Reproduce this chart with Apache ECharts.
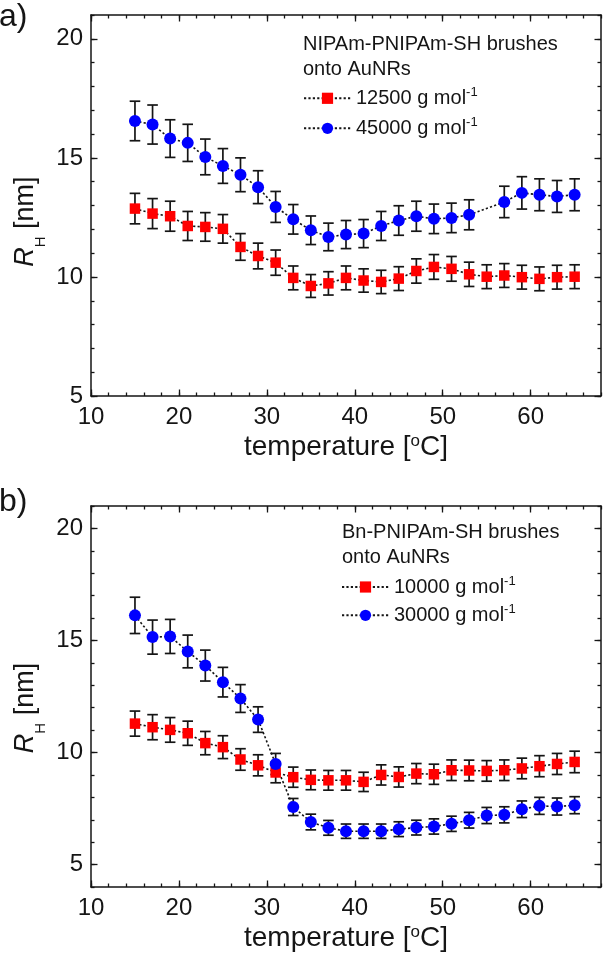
<!DOCTYPE html>
<html>
<head>
<meta charset="utf-8">
<script src="https://cdn.jsdelivr.net/npm/echarts@6/dist/echarts.min.js"></script>
<style>
html,body{margin:0;padding:0;background:#ffffff;}
#chart{width:604px;height:957px;}
</style>
</head>
<body>
<div id="chart"></div>
<script>
// ---------------- data ----------------
const temperature = [15,17,19,21,23,25,27,29,31,33,35,37,39,41,43,45,47,49,51,53,55,57,59,61,63,65];

// panel a) NIPAm-PNIPAm-SH brushes onto AuNRs
const aRedName = '12500 g mol-1';
const aRed    = [12.87,12.66,12.55,12.14,12.10,12.02,11.26,10.88,10.60,9.96,9.62,9.73,9.96,9.85,9.79,9.93,10.25,10.42,10.34,10.11,10.01,10.06,9.99,9.92,9.99,10.01];
const aRedErr = [0.64,0.63,0.63,0.61,0.60,0.60,0.56,0.54,0.53,0.50,0.48,0.49,0.50,0.49,0.49,0.50,0.51,0.52,0.52,0.51,0.50,0.50,0.50,0.50,0.50,0.50];
const aBlueName = '45000 g mol-1';
const aBlue    = [16.55,16.40,15.81,15.63,15.04,14.66,14.29,13.77,12.94,12.42,11.96,11.68,11.78,11.82,12.14,12.37,12.55,12.44,12.48,12.61,null,13.15,13.53,13.45,13.38,13.45];
const aBlueErr = [0.83,0.82,0.79,0.78,0.75,0.73,0.71,0.69,0.65,0.62,0.60,0.58,0.59,0.59,0.61,0.62,0.63,0.62,0.62,0.63,null,0.66,0.68,0.67,0.67,0.67];

// panel b) Bn-PNIPAm-SH brushes onto AuNRs
const bRedName = '10000 g mol-1';
const bRed    = [11.29,11.13,11.01,10.86,10.42,10.24,9.69,9.43,9.11,8.90,8.78,8.76,8.76,8.69,9.00,8.91,9.06,9.03,9.21,9.20,9.18,9.21,9.29,9.39,9.49,9.58];
const bRedErr = [0.56,0.56,0.55,0.54,0.52,0.51,0.48,0.47,0.46,0.45,0.44,0.44,0.44,0.43,0.45,0.45,0.45,0.45,0.46,0.46,0.46,0.46,0.46,0.47,0.47,0.48];
const bBlueName = '30000 g mol-1';
const bBlue    = [16.12,15.15,15.18,14.51,13.88,13.14,12.41,11.47,9.49,7.57,6.90,6.64,6.49,6.49,6.49,6.58,6.65,6.70,6.82,6.98,7.19,7.22,7.47,7.62,7.59,7.65];
const bBlueErr = [0.81,0.76,0.76,0.73,0.69,0.66,0.62,0.57,0.47,0.38,0.35,0.33,0.32,0.32,0.32,0.33,0.33,0.34,0.34,0.35,0.36,0.36,0.37,0.38,0.38,0.38];

// axis ticks
const xMajorTicks = [10,20,30,40,50,60];
const yMajorTicks = [5,10,15,20];
const panelAHeader = 'NIPAm-PNIPAm-SH brushes\nonto AuNRs';
const panelBHeader = 'Bn-PNIPAm-SH brushes\nonto AuNRs';

// ---------------- helpers ----------------
const FONT = 'Liberation Sans, Arial, Helvetica, sans-serif';
const INK = '#151515';

function pairs(xs, ys) {
  const out = [];
  for (let i = 0; i < xs.length; i++) if (ys[i] != null) out.push([xs[i], ys[i]]);
  return out;
}
function errData(xs, ys, es) {
  const out = [];
  for (let i = 0; i < xs.length; i++) if (ys[i] != null) out.push([xs[i], ys[i] - es[i], ys[i] + es[i]]);
  return out;
}
function renderErr(params, api) {
  const x = api.value(0);
  const p1 = api.coord([x, api.value(1)]);
  const p2 = api.coord([x, api.value(2)]);
  const w = 5.3;
  const st = {stroke: INK, lineWidth: 1.7};
  return {type: 'group', children: [
    {type: 'line', shape: {x1: p1[0], y1: p1[1], x2: p2[0], y2: p2[1]}, style: st},
    {type: 'line', shape: {x1: p1[0] - w, y1: p1[1], x2: p1[0] + w, y2: p1[1]}, style: st},
    {type: 'line', shape: {x1: p2[0] - w, y1: p2[1], x2: p2[0] + w, y2: p2[1]}, style: st}
  ]};
}

const axisLineStyle = {show: true, onZero: false, lineStyle: {color: INK, width: 1.5}};

function xAxes(gridIndex) {
  const base = {type: 'value', gridIndex: gridIndex, min: 10, max: 68, splitLine: {show: false}};
  return [
    Object.assign({}, base, {position: 'bottom', interval: 2, axisLine: axisLineStyle,
      axisTick: {show: true, inside: true, length: 3.5, lineStyle: {color: INK, width: 1.3}},
      axisLabel: {show: false}}),
    Object.assign({}, base, {position: 'bottom', interval: 10, axisLine: {show: false, onZero: false},
      axisTick: {show: true, inside: true, length: 6.5, customValues: xMajorTicks, lineStyle: {color: INK, width: 1.3}},
      axisLabel: {show: true, customValues: xMajorTicks, margin: 9, fontSize: 24, fontFamily: FONT, color: INK},
      name: '{m|temperature [}{s|o}{m|C]}', nameLocation: 'middle', nameGap: 37,
      nameTextStyle: {fontSize: 28, fontFamily: FONT, color: INK, lineHeight: 28,
        rich: {m: {fontSize: 28, fontFamily: FONT, color: INK, lineHeight: 28},
               s: {fontSize: 17, fontFamily: FONT, color: INK, lineHeight: 14, verticalAlign: 'top'}}}}),
    Object.assign({}, base, {position: 'top', interval: 2, axisLine: axisLineStyle,
      axisTick: {show: true, inside: true, length: 3.5, lineStyle: {color: INK, width: 1.3}},
      axisLabel: {show: false}}),
    Object.assign({}, base, {position: 'top', interval: 10, axisLine: {show: false, onZero: false},
      axisTick: {show: true, inside: true, length: 6.5, customValues: xMajorTicks, lineStyle: {color: INK, width: 1.3}},
      axisLabel: {show: false}})
  ];
}
function yAxes(gridIndex, yMin) {
  const base = {type: 'value', gridIndex: gridIndex, min: yMin, max: 21, splitLine: {show: false}};
  return [
    Object.assign({}, base, {position: 'left', interval: 1, axisLine: axisLineStyle,
      axisTick: {show: true, inside: true, length: 3.5, lineStyle: {color: INK, width: 1.3}},
      axisLabel: {show: false}}),
    Object.assign({}, base, {position: 'left', interval: 5, axisLine: {show: false, onZero: false},
      axisTick: {show: true, inside: true, length: 6.5, customValues: yMajorTicks, lineStyle: {color: INK, width: 1.3}},
      axisLabel: {show: true, customValues: yMajorTicks, margin: 8, fontSize: 24, fontFamily: FONT, color: INK}}),
    Object.assign({}, base, {position: 'right', interval: 1, axisLine: axisLineStyle,
      axisTick: {show: true, inside: true, length: 3.5, lineStyle: {color: INK, width: 1.3}},
      axisLabel: {show: false}}),
    Object.assign({}, base, {position: 'right', interval: 5, axisLine: {show: false, onZero: false},
      axisTick: {show: true, inside: true, length: 6.5, customValues: yMajorTicks, lineStyle: {color: INK, width: 1.3}},
      axisLabel: {show: false}})
  ];
}

function lineSeries(name, ys, axIdx, symbol, size, color) {
  return {
    type: 'line', name: name, xAxisIndex: axIdx, yAxisIndex: axIdx,
    data: pairs(temperature, ys), connectNulls: true,
    symbol: symbol, symbolSize: size, showSymbol: true,
    itemStyle: {color: color, borderWidth: 0},
    lineStyle: {color: INK, width: 1.6, type: [2.2, 2.2]},
    emphasis: {disabled: true}, animation: false, z: 3
  };
}
function errSeries(ys, es, axIdx) {
  return {
    type: 'custom', xAxisIndex: axIdx, yAxisIndex: axIdx,
    data: errData(temperature, ys, es), renderItem: renderErr,
    encode: {x: 0, y: [1, 2]}, silent: true, animation: false, z: 2
  };
}

function legendOf(names, left, top, gap) {
  return {
    data: names, orient: 'vertical', left: left, top: top, padding: 0,
    itemWidth: 47, itemHeight: 14, itemGap: gap, selectedMode: false,
    formatter: function (n) { return '{n|' + n.replace('-1', '') + '}{s|-1}'; },
    textStyle: {fontSize: 20, fontFamily: FONT, color: INK, lineHeight: 24,
      rich: {n: {fontSize: 20, fontFamily: FONT, color: INK, lineHeight: 24},
             s: {fontSize: 13, fontFamily: FONT, color: INK, lineHeight: 19, verticalAlign: 'top'}}}
  };
}

function yTitle(x, y) {
  return {
    type: 'text', x: x, y: y, rotation: Math.PI / 2,
    style: {
      text: '{r|R}{h|H}{n| [nm]}', align: 'center', verticalAlign: 'middle',
      fill: INK, fontFamily: FONT, fontSize: 27,
      rich: {
        r: {fontStyle: 'italic', fontSize: 27, fontFamily: FONT, lineHeight: 45, fill: INK},
        h: {fontSize: 15, fontFamily: FONT, lineHeight: 15, verticalAlign: 'bottom', fill: INK},
        n: {fontSize: 27, fontFamily: FONT, lineHeight: 45, fill: INK}
      }
    }
  };
}
function panelLabel(text, y) {
  return {type: 'text', x: -1, y: y,
    style: {text: text, fontSize: 32, fontFamily: FONT, fill: INK, align: 'left', verticalAlign: 'middle'}};
}

const option = {
  backgroundColor: '#ffffff',
  animation: false,
  grid: [
    {left: 91, right: 3, top: 15, height: 381, outerBoundsMode: 'none', containLabel: false},
    {left: 91, right: 3, top: 506, height: 381, outerBoundsMode: 'none', containLabel: false}
  ],
  xAxis: xAxes(0).concat(xAxes(1)),
  yAxis: yAxes(0, 5).concat(yAxes(1, 4)),
  title: [
    {text: panelAHeader, left: 303, top: 31.5, padding: 0,
      textStyle: {fontSize: 20, fontWeight: 'normal', fontFamily: FONT, color: INK, lineHeight: 25.5}},
    {text: panelBHeader, left: 342, top: 519.5, padding: 0,
      textStyle: {fontSize: 20, fontWeight: 'normal', fontFamily: FONT, color: INK, lineHeight: 25.5}}
  ],
  legend: [
    legendOf([aRedName, aBlueName], 303, 86.3, 6),
    legendOf([bRedName, bBlueName], 341, 575, 4.3)
  ],
  graphic: [
    panelLabel('a)', 16.8),
    panelLabel('b)', 501.8),
    yTitle(25.5, 221.7),
    yTitle(25.5, 708)
  ],
  series: [
    errSeries(aRed, aRedErr, 0),
    errSeries(aBlue, aBlueErr, 0),
    lineSeries(aRedName, aRed, 0, 'rect', 10.5, '#ff0000'),
    lineSeries(aBlueName, aBlue, 0, 'circle', 12, '#0000ff'),
    errSeries(bRed, bRedErr, 4),
    errSeries(bBlue, bBlueErr, 4),
    lineSeries(bRedName, bRed, 4, 'rect', 10.5, '#ff0000'),
    lineSeries(bBlueName, bBlue, 4, 'circle', 12, '#0000ff')
  ]
};

const chart = echarts.init(document.getElementById('chart'), null, {renderer: 'canvas'});
chart.setOption(option);
</script>
</body>
</html>
